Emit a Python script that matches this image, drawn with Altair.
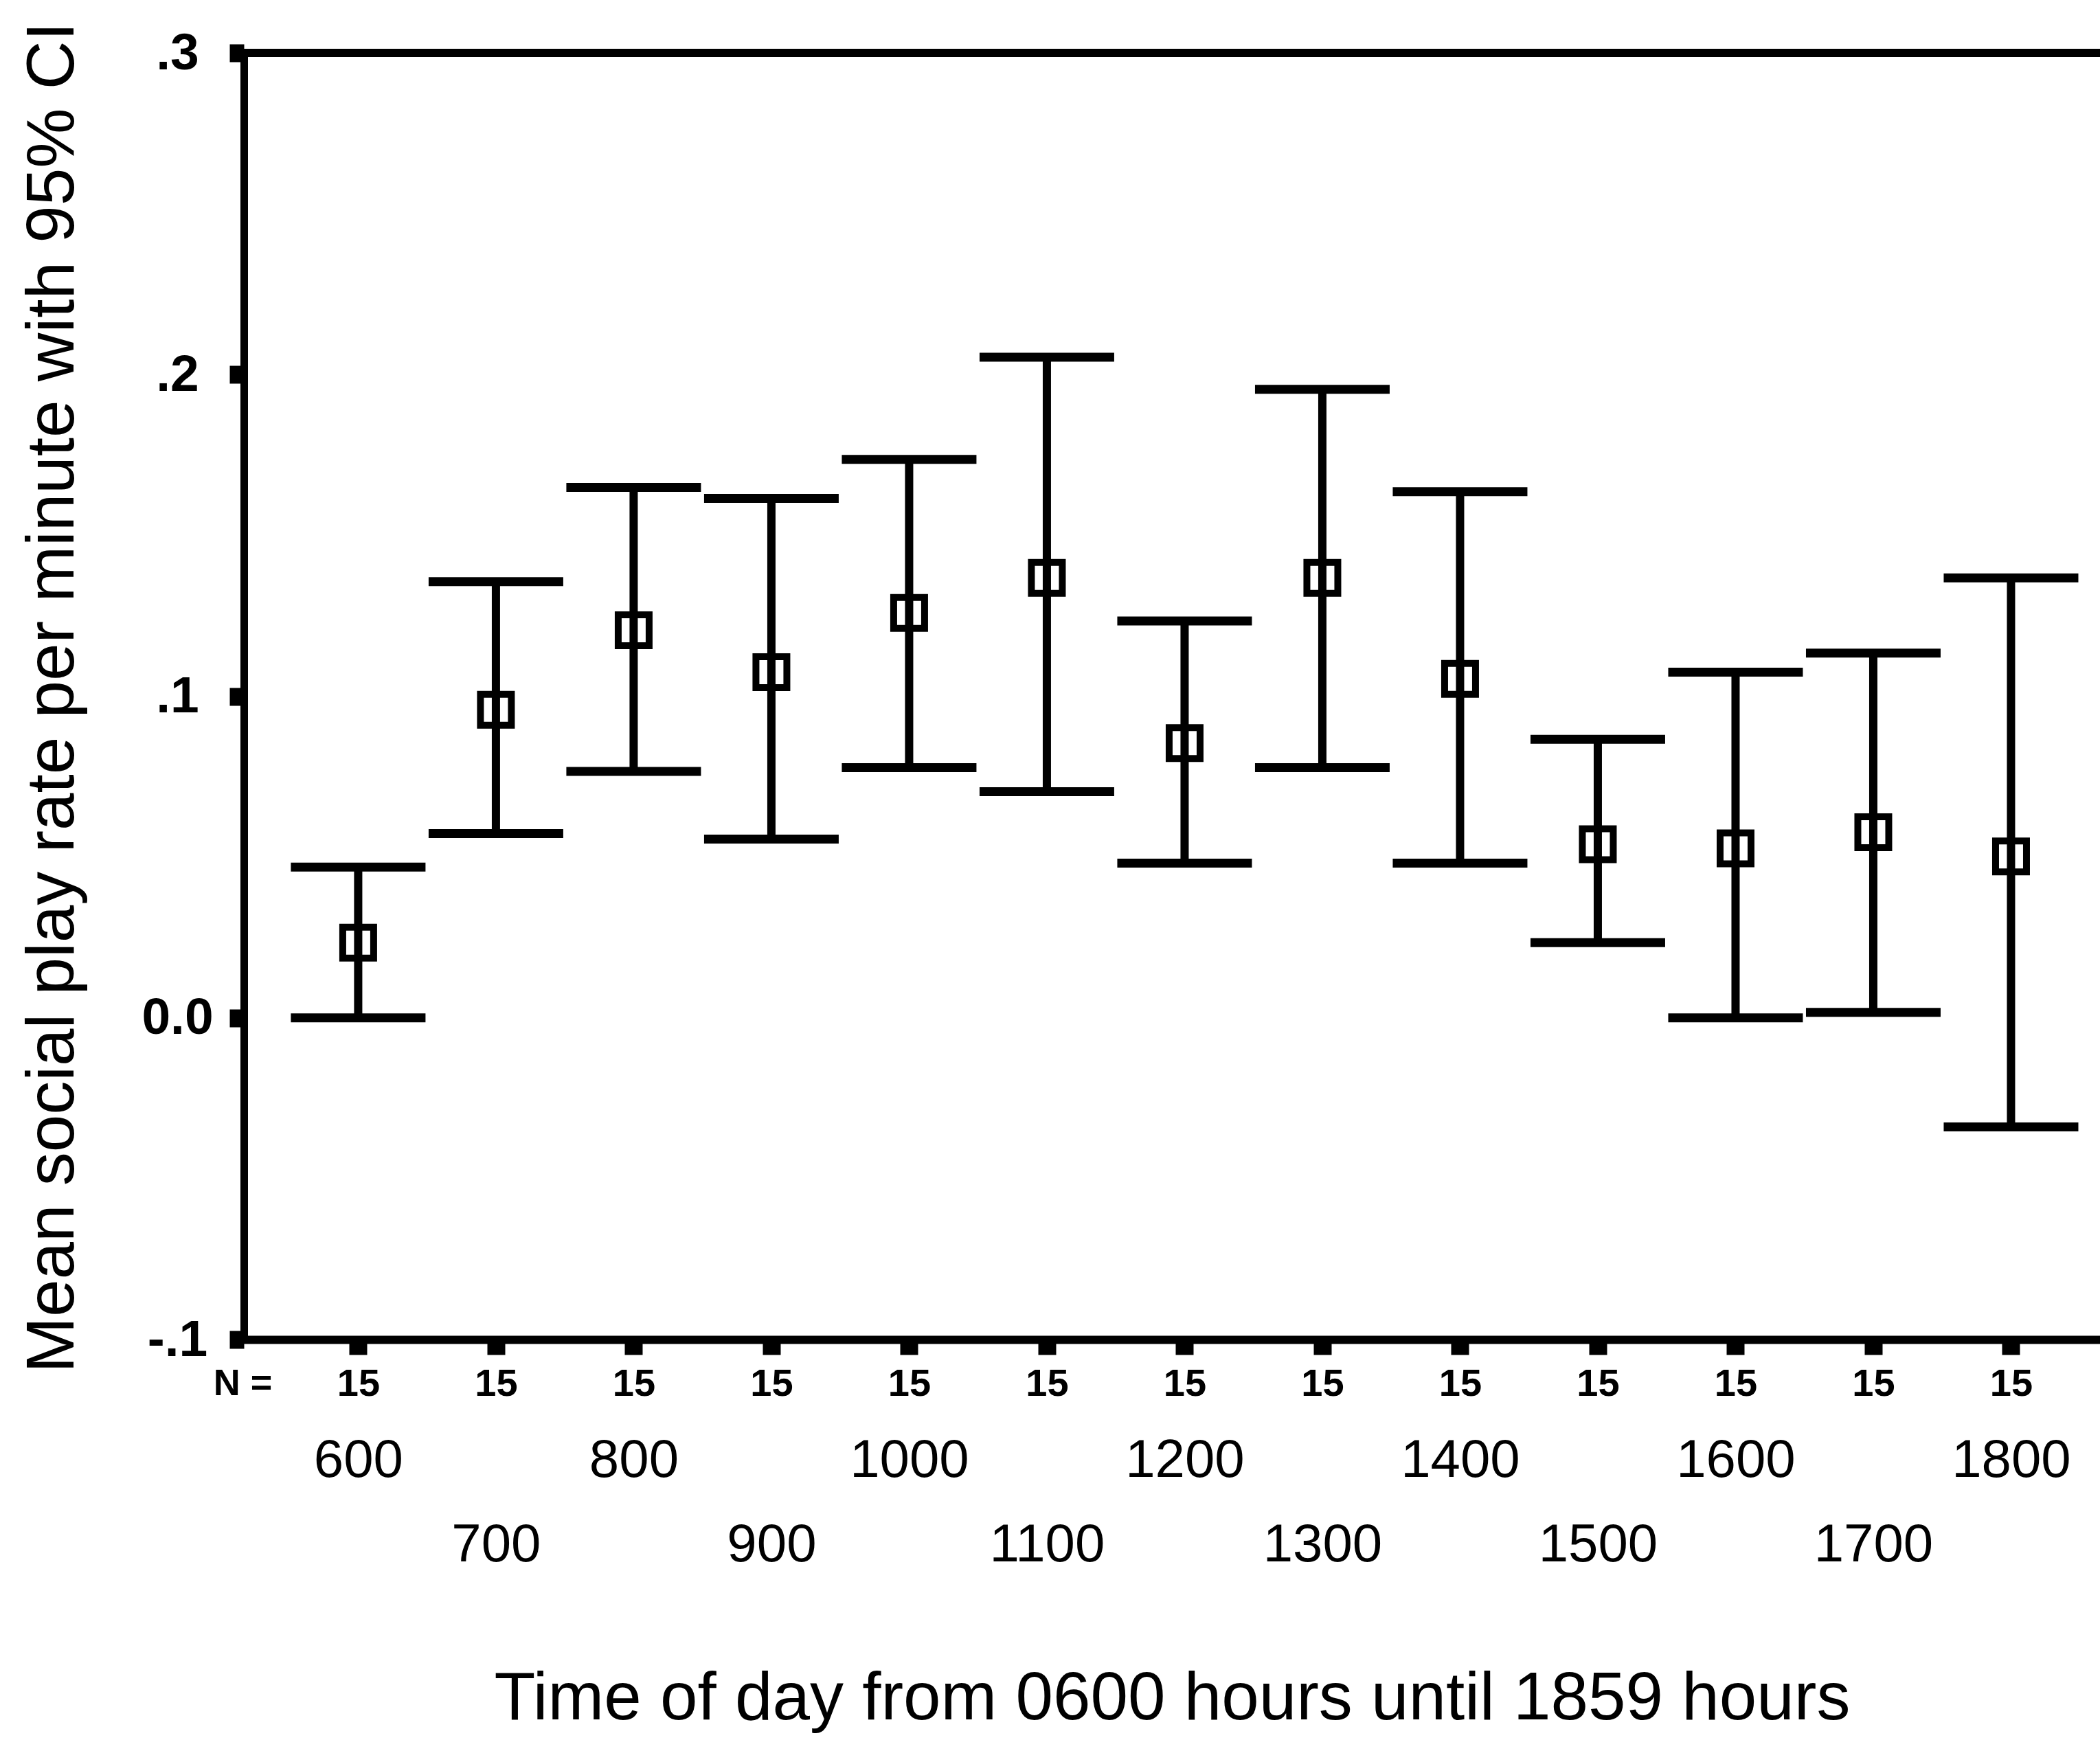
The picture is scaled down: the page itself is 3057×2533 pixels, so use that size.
import altair as alt
import pandas as pd

# ---------------- data ----------------
times = ["600", "700", "800", "900", "1000", "1100", "1200",
         "1300", "1400", "1500", "1600", "1700", "1800"]
n_obs = [15, 15, 15, 15, 15, 15, 15, 15, 15, 15, 15, 15, 15]
means = [0.0234, 0.0958, 0.1205, 0.1075, 0.1259, 0.1368, 0.0854,
         0.1368, 0.1054, 0.0540, 0.0527, 0.0577, 0.0502]
lower = [0.0000, 0.0573, 0.0766, 0.0556, 0.0778, 0.0703, 0.0481,
         0.0778, 0.0481, 0.0234, 0.0000, 0.0017, -0.0339]
upper = [0.0469, 0.1356, 0.1649, 0.1615, 0.1736, 0.2054, 0.1234,
         0.1954, 0.1636, 0.0866, 0.1075, 0.1134, 0.1368]
y_ticks = [-0.1, 0.0, 0.1, 0.2, 0.3]
y_tick_labels = ["-.1", "0.0", ".1", ".2", ".3"]

x_title = "Time of day from 0600 hours until 1859 hours"
y_title = "Mean social play rate per minute with 95% CI"

df = pd.DataFrame({
    "idx": list(range(len(times))),
    "time": times,
    "n": n_obs,
    "mean": means,
    "lower": lower,
    "upper": upper,
})

# ---------------- layout ----------------
FONT = "Liberation Sans"
W = 2702
H = 1873
LEFT = 355
TOP = 77

xscale = alt.Scale(domain=[-0.830, 12.646], nice=False, zero=False)
yscale = alt.Scale(domain=[-0.1, 0.3], nice=False, zero=False)

times_arr = "[" + ",".join(f"'{t}'" for t in times) + "]"
n_arr = "[" + ",".join(f"'{n}'" for n in n_obs) + "]"
ylab_arr = "[" + ",".join(f"'{t}'" for t in y_tick_labels) + "]"
idx_vals = list(range(len(times)))

common_x = dict(values=idx_vals, grid=False, labelFlush=False, labelOverlap=False,
                labelFont=FONT, labelColor="black", titleFont=FONT, titleColor="black",
                orient="bottom")

axis_n = alt.Axis(
    labelExpr=f"{n_arr}[datum.value]",
    domain=True, domainWidth=12, domainColor="black", domainCap="square",
    ticks=True, tickSize=22, tickWidth=26, tickColor="black",
    labelFontSize=56, labelFontWeight="bold", labelPadding=42, labelBaseline="middle",
    title="N =", titleX=-2, titleY=64, titleAngle=0, titleAlign="center",
    titleBaseline="middle", titleFontSize=54, titleFontWeight="bold",
    **common_x,
)
axis_even = alt.Axis(
    labelExpr=f"datum.value % 2 == 0 ? {times_arr}[datum.value] : ''",
    domain=False, ticks=False, tickSize=0,
    labelFontSize=78, labelFontWeight="normal", labelPadding=176, labelBaseline="middle",
    title=x_title, titleX=1351, titleY=523, titleAngle=0, titleAlign="center",
    titleBaseline="middle", titleFontSize=98, titleFontWeight="normal",
    **common_x,
)
axis_odd = alt.Axis(
    labelExpr=f"datum.value % 2 == 1 ? {times_arr}[datum.value] : ''",
    domain=False, ticks=False, tickSize=0,
    labelFontSize=78, labelFontWeight="normal", labelPadding=299, labelBaseline="middle",
    title=None,
    **common_x,
)

y_axis = alt.Axis(
    values=y_ticks,
    labelExpr=f"{ylab_arr}[round((datum.value + 0.1) * 10)]",
    domain=True, domainWidth=11, domainColor="black", domainCap="square",
    ticks=True, tickSize=21, tickWidth=26, tickColor="black",
    labelFont=FONT, labelFontSize=75, labelFontWeight="bold", labelColor="black",
    labelPadding=76, labelAlign="center", labelBaseline="middle",
    labelFlush=False, labelOverlap=False, grid=False,
    title=y_title, titleFont=FONT, titleFontSize=98, titleFontWeight="normal",
    titleColor="black", titleX=-278, titleY=938, titleAngle=270,
    titleAlign="center", titleBaseline="middle",
)

base = alt.Chart(df)

bars = base.mark_rule(color="black", strokeWidth=12).encode(
    x=alt.X("idx:Q", scale=xscale, axis=axis_n),
    y=alt.Y("lower:Q", scale=yscale, axis=y_axis),
    y2="upper:Q",
)
caps_up = base.mark_tick(orient="horizontal", size=196, thickness=13, color="black",
                         opacity=1).encode(
    x=alt.X("idx:Q", scale=xscale, axis=axis_even),
    y=alt.Y("upper:Q", scale=yscale, axis=y_axis),
)
caps_lo = base.mark_tick(orient="horizontal", size=196, thickness=13, color="black",
                         opacity=1).encode(
    x=alt.X("idx:Q", scale=xscale, axis=axis_odd),
    y=alt.Y("lower:Q", scale=yscale, axis=y_axis),
)
points = base.mark_point(shape="square", size=2025, filled=False, strokeWidth=10,
                         color="black", opacity=1).encode(
    x=alt.X("idx:Q", scale=xscale, axis=None),
    y=alt.Y("mean:Q", scale=yscale, axis=y_axis),
)
top_frame = alt.Chart(pd.DataFrame({"top": [max(y_ticks)]})).mark_rule(
    color="black", strokeWidth=12).encode(
    y=alt.Y("top:Q", scale=yscale, axis=y_axis),
)

chart = (
    alt.layer(bars, caps_up, caps_lo, points, top_frame)
    .resolve_axis(x="independent")
    .properties(
        width=W, height=H,
        autosize=alt.AutoSizeParams(type="none"),
        padding={"left": LEFT, "top": TOP, "right": 0, "bottom": 2533 - TOP - H},
        background="white",
    )
    .configure_view(stroke=None)
)

chart.save("out.html", embed_options={"renderer": "svg", "actions": False})
